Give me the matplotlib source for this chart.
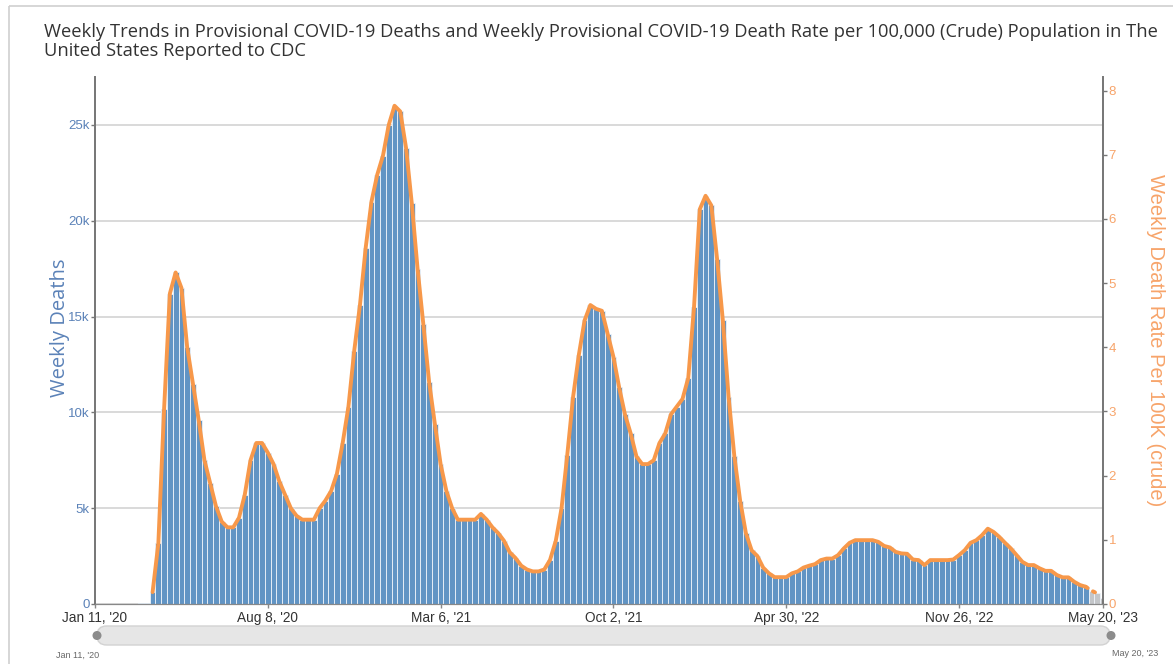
import matplotlib.pyplot as plt
import numpy as np
import pandas as pd
from matplotlib.patches import FancyBboxPatch, Rectangle, Circle

# weekly provisional covid-19 deaths, week ending Jan 11 2020 .. May 20 2023
weeks = pd.date_range('2020-01-11', '2023-05-20', freq='W-SAT')
deaths = [
    0, 0, 0, 0, 0, 0, 0, 5, 40, 60,
    620, 3170, 10200, 16200, 17300, 16500, 13400, 11500, 9600, 7500,
    6300, 5100, 4300, 4000, 4000, 4500, 5700, 7500, 8400, 8400,
    7900, 7300, 6400, 5700, 5000, 4600, 4400, 4400, 4400, 5000,
    5400, 5900, 6800, 8400, 10300, 13200, 15600, 18600, 21000, 22400,
    23400, 25000, 26000, 25700, 23800, 20900, 17500, 14600, 11600, 9400,
    7300, 5900, 5000, 4400, 4400, 4400, 4400, 4700, 4400, 4000,
    3700, 3300, 2700, 2400, 2000, 1800, 1700, 1700, 1800, 2300,
    3300, 5000, 7800, 10800, 13000, 14800, 15600, 15400, 15300, 14100,
    12900, 11300, 9900, 8900, 7700, 7300, 7300, 7500, 8400, 8900,
    9900, 10300, 10700, 11800, 15500, 20600, 21300, 20800, 18000, 14800,
    10800, 7700, 5400, 3700, 2800, 2500, 1900, 1600, 1400, 1400,
    1400, 1600, 1700, 1900, 2000, 2080, 2290, 2370, 2370, 2550,
    2900, 3190, 3330, 3330, 3330, 3330, 3240, 3030, 2950, 2720,
    2640, 2620, 2320, 2290, 2030, 2290, 2290, 2290, 2290, 2320,
    2550, 2810, 3190, 3330, 3590, 3930, 3760, 3500, 3190, 2900,
    2550, 2200, 2030, 2030, 1860, 1730, 1730, 1510, 1390, 1390,
    1160, 990, 900, 700, 550, 300,
]
first_rate_week = 10      # rate line starts here
n_incomplete = 3          # last weeks shown in grey (incomplete data)
population = 334.9e6      # crude rate denominator

xtick_dates = ['2020-01-11', '2020-08-08', '2021-03-06', '2021-10-02',
               '2022-04-30', '2022-11-26', '2023-05-20']
xtick_labels = ["Jan 11, '20", "Aug 8, '20", "Mar 6, '21", "Oct 2, '21",
                "Apr 30, '22", "Nov 26, '22", "May 20, '23"]
ytick_vals = [0, 5000, 10000, 15000, 20000, 25000]
ytick_labels = ['0', '5k', '10k', '15k', '20k', '25k']

title = ("Weekly Trends in Provisional COVID-19 Deaths and Weekly Provisional COVID-19 "
         "Death Rate per 100,000 (Crude) Population in The\nUnited States Reported to CDC")

blue = '#6194c4'
grey_bar = '#c4c6c9'
orange = '#f7984a'
blue_txt = '#5b82b8'
orange_txt = '#f7a46a'

deaths = np.array(deaths, dtype=float)
rate = deaths / population * 1e5
rate[:first_rate_week] = np.nan

W, H = 1173, 664
fig = plt.figure(figsize=(W / 100, H / 100), dpi=100)
plt.rcParams['font.family'] = ['Liberation Sans', 'DejaVu Sans']

# background layer in pixel coordinates for frame and range slider
bg = fig.add_axes([0, 0, 1, 1], zorder=-1)
bg.set_xlim(0, W)
bg.set_ylim(H, 0)
bg.axis('off')
bg.add_patch(Rectangle((9, 6), W + 20, H + 20, fill=False, edgecolor='#cfcfcf', linewidth=1.2))
bg.add_patch(FancyBboxPatch((97, 626), 1110 - 97, 19, boxstyle='round,pad=0,rounding_size=9.5',
                            facecolor='#e6e6e6', edgecolor='#d2d2d2', linewidth=1))
for hx in (97, 1111):
    bg.add_patch(Circle((hx, 635.5), 4.5, facecolor='#8c8c8c', edgecolor='none'))

ax = fig.add_axes([95 / W, 1 - 604 / H, (1103 - 95) / W, (604 - 77) / H])
ax2 = ax.twinx()

colors = [blue] * (len(deaths) - n_incomplete) + [grey_bar] * n_incomplete
ax.bar(weeks, deaths, width=7, color=colors, edgecolor='#eef3f9', linewidth=0.6, zorder=2)

n_solid = len(deaths) - n_incomplete
ax2.plot(weeks[:n_solid], rate[:n_solid], color=orange, linewidth=2.8,
         solid_joinstyle='round', solid_capstyle='round', zorder=3)
ax2.plot(weeks[n_solid - 1:n_solid + 2], rate[n_solid - 1:n_solid + 2], color=orange,
         linewidth=2.8, linestyle=(0, (0.6, 1.6)), dash_capstyle='round', zorder=3)

x0, x1 = pd.Timestamp('2020-01-11'), pd.Timestamp('2023-05-20')
ax.set_xlim(x0, x1)
ax.set_ylim(0, 27500)
ax2.set_ylim(0, 27500 / population * 1e5)

ax.set_yticks(ytick_vals)
ax.set_yticklabels(ytick_labels)
ax.yaxis.grid(True, color='#d0d0d0', linewidth=1.1)
ax.set_axisbelow(True)
ax.tick_params(axis='y', colors='#777777', labelcolor=blue_txt, labelsize=9.5,
               length=3, width=1, pad=1)
ax.set_xticks(pd.to_datetime(xtick_dates))
ax.set_xticklabels(xtick_labels)
ax.tick_params(axis='x', colors='#888888', labelcolor='#333333', labelsize=9.8,
               length=3, width=1, pad=2)

ax2.set_yticks(range(0, 9))
ax2.tick_params(axis='y', colors='#777777', labelcolor=orange_txt, labelsize=9.5,
                length=3, width=1, pad=1)

for a in (ax, ax2):
    a.spines['top'].set_visible(False)
    a.spines['left'].set_color('#777777')
    a.spines['right'].set_color('#777777')
    a.spines['bottom'].set_color('#888888')
    a.spines['left'].set_linewidth(1.3)
    a.spines['right'].set_linewidth(1.3)

fig.text(60 / W, 1 - 328 / H, 'Weekly Deaths', rotation=90, ha='center', va='center',
         fontsize=14.5, color=blue_txt, family=['Open Sans', 'DejaVu Sans'])
fig.text(1155 / W, 1 - 340 / H, 'Weekly Death Rate Per 100K (crude)', rotation=-90,
         ha='center', va='center', fontsize=14.5, color=orange_txt)

fig.text(44 / W, 1 - 23 / H, title, ha='left', va='top', fontsize=13.2,
         color='#333333', family=['Open Sans', 'DejaVu Sans'], linespacing=1.08)

fig.text(78 / W, 1 - 655 / H, "Jan 11, '20", ha='center', va='center', fontsize=6.5, color='#666666')
fig.text(1135 / W, 1 - 654 / H, "May 20, '23", ha='center', va='center', fontsize=6.5, color='#666666')

fig.savefig('out.png', dpi=100)
